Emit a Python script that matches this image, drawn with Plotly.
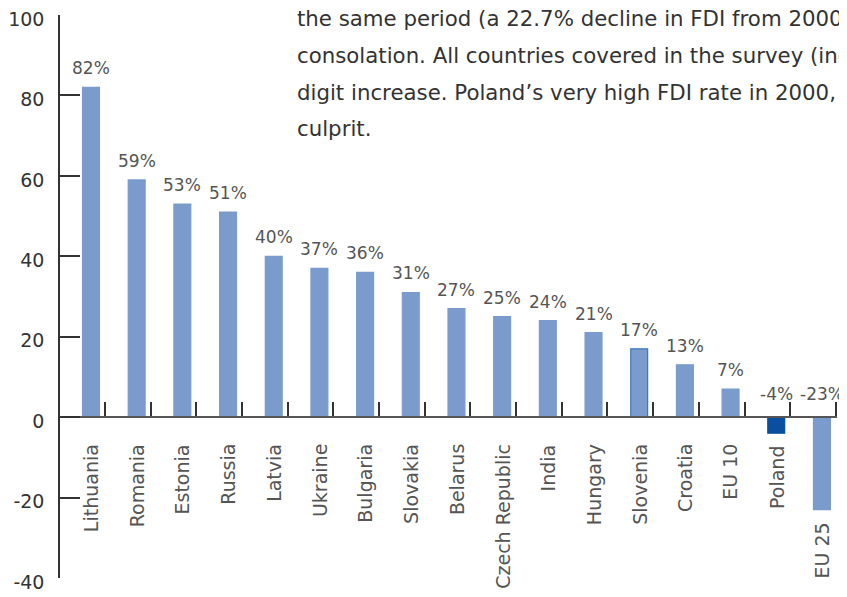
import plotly.graph_objects as go

categories = ["Lithuania", "Romania", "Estonia", "Russia", "Latvia", "Ukraine",
              "Bulgaria", "Slovakia", "Belarus", "Czech Republic", "India",
              "Hungary", "Slovenia", "Croatia", "EU 10", "Poland", "EU 25"]
values = [82, 59, 53, 51, 40, 37, 36, 31, 27, 25, 24, 21, 17, 13, 7, -4, -23]
y_ticks = [-40, -20, 0, 20, 40, 60, 80, 100]
overlay_lines = [
    "the same period (a 22.7% decline in FDI from 2000",
    "consolation. All countries covered in the survey (inc",
    "digit increase. Poland\u2019s very high FDI rate in 2000,",
    "culprit.",
]

BASE = "#7b9bcd"
HILITE = "#0a4f9f"
FONT = "DejaVu Sans"

colors = [HILITE if c == "Poland" else BASE for c in categories]
line_colors = ["#3a78c0" if c == "Slovenia" else ("#0a4f9f" if c == "Poland" else BASE)
               for c in categories]
xs = list(range(len(categories)))

fig = go.Figure()
fig.add_trace(go.Bar(
    x=xs, y=values, width=0.37,
    marker=dict(color=colors, line=dict(color=line_colors, width=1.2)),
    hoverinfo="skip",
))

annotations = []
for i, (c, v) in enumerate(zip(categories, values)):
    # value labels
    annotations.append(dict(
        x=i, y=max(v, 0), xref="x", yref="y", text=f"{v}%",
        showarrow=False, yanchor="bottom", xanchor="center",
        yshift=7 if v >= 0 else 11,
        font=dict(family=FONT, size=17, color="#555555"),
    ))
    # category labels
    annotations.append(dict(
        x=i, y=min(v, 0), xref="x", yref="y", text=c,
        showarrow=False, yanchor="top", xanchor="center", textangle=-90,
        yshift=-25 if v >= 0 else -11,
        font=dict(family=FONT, size=19, color="#555555"),
    ))

# the page body has an 8px margin, so the figure is offset by 8px
W, H, OFF = 847 - 8, 597 - 8, 8
PL, PR, PT, PB = 60 - OFF, 837 - OFF, 15 - OFF, 578 - OFF
pw, ph = PR - PL, PB - PT

line_py = [18, 55, 92, 129]
for txt, py in zip(overlay_lines, line_py):
    annotations.append(dict(
        x=(295 - 60) / pw, y=(578 - py) / ph, xref="paper", yref="paper",
        text=txt, showarrow=False, xanchor="left", yanchor="middle",
        font=dict(family=FONT, size=21.3, color="#333333"),
    ))

fig.update_layout(
    width=W, height=H,
    margin=dict(l=PL, r=W - PR, t=PT, b=H - PB, autoexpand=False),
    paper_bgcolor="white", plot_bgcolor="white",
    showlegend=False,
    annotations=annotations,
    xaxis=dict(
        range=[-0.6785, 16.33], anchor="free", position=40 / 140,
        showline=True, linecolor="#555555", linewidth=1.5,
        ticks="inside", tickvals=[i + 0.306 for i in xs], ticklen=14,
        tickwidth=1.5, tickcolor="#333333",
        showticklabels=False, showgrid=False, zeroline=False, fixedrange=True,
        automargin=False,
    ),
    yaxis=dict(
        range=[-40, 100], tickvals=y_ticks,
        ticktext=[str(t) for t in y_ticks],
        showline=True, linecolor="#333333", linewidth=1.5,
        ticks="inside", ticklen=20, tickwidth=2, tickcolor="#333333",
        ticklabelstandoff=10, ticklabelshift=4, ticklabeloverflow="allow",
        tickfont=dict(family=FONT, size=19, color="#333333"),
        showgrid=False, zeroline=False, fixedrange=True, automargin=False,
    ),
)

fig.write_html("out.html")
